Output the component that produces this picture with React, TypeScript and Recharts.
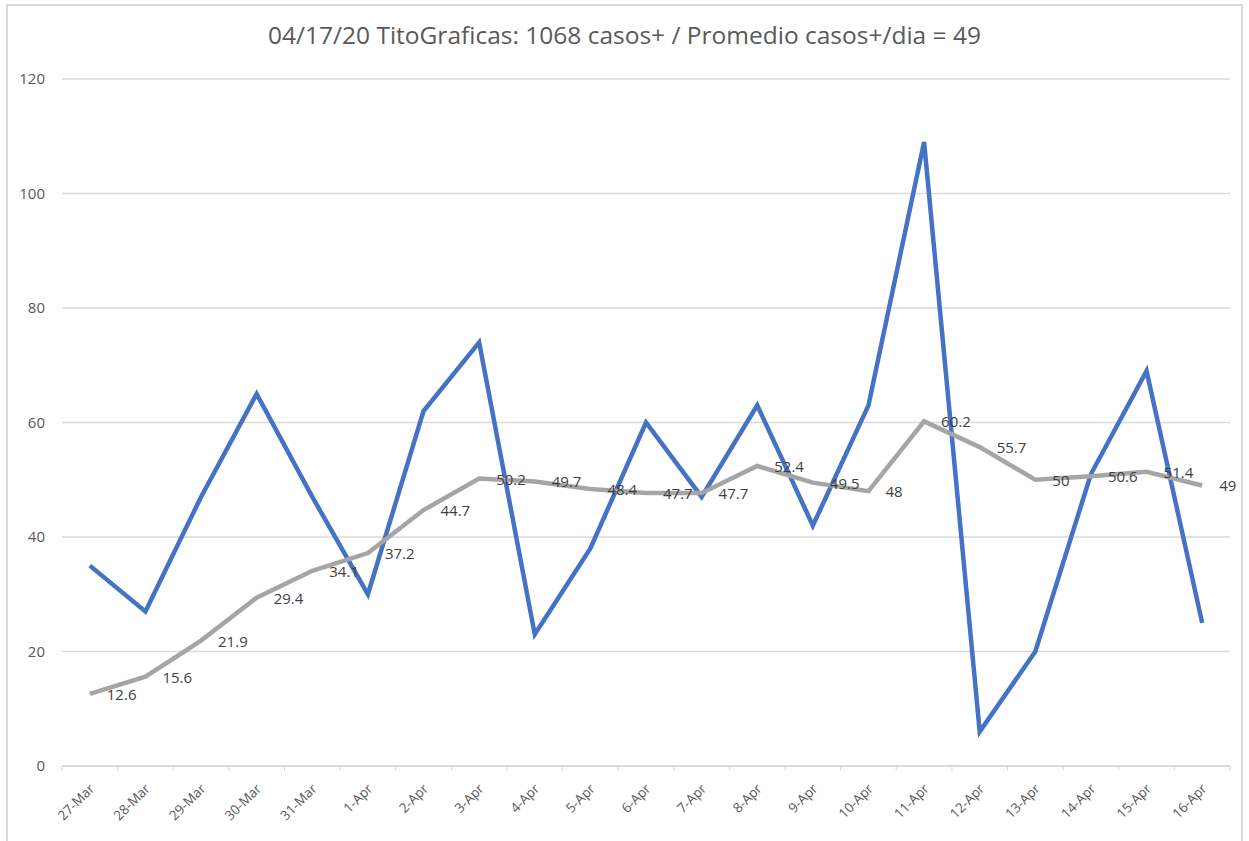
import React from "react";
import { LineChart, Line, XAxis, YAxis, CartesianGrid, LabelList } from "recharts";

const days = [
  "27-Mar", "28-Mar", "29-Mar", "30-Mar", "31-Mar", "1-Apr", "2-Apr", "3-Apr",
  "4-Apr", "5-Apr", "6-Apr", "7-Apr", "8-Apr", "9-Apr", "10-Apr", "11-Apr",
  "12-Apr", "13-Apr", "14-Apr", "15-Apr", "16-Apr",
];
const casos = [35, 27, 47, 65, 47, 30, 62, 74, 23, 38, 60, 47, 63, 42, 63, 109, 6, 20, 51, 69, 25];
const promedio = [
  12.6, 15.6, 21.9, 29.4, 34.1, 37.2, 44.7, 50.2, 49.7, 48.4, 47.7, 47.7, 52.4,
  49.5, 48, 60.2, 55.7, 50, 50.6, 51.4, 49,
];
const yTicks = [0, 20, 40, 60, 80, 100, 120];

const data = days.map((d, i) => ({ day: d, casos: casos[i], promedio: promedio[i] }));

const W = 1249;
const H = 841;
const LEFT = 62;
const RIGHT = 1230;
const BAND = (RIGHT - LEFT) / days.length;
const FONT = "Open Sans, sans-serif";

function DayTick(props: any) {
  const { x, y, payload, index } = props;
  const half = BAND / 2;
  const ax = x + 2;
  const ay = y + 20;
  return (
    <g>
      <line x1={x - half} x2={x - half} y1={y} y2={y + 5} stroke="#d9d9d9" />
      {index === days.length - 1 && (
        <line x1={x + half} x2={x + half} y1={y} y2={y + 5} stroke="#d9d9d9" />
      )}
      <text
        x={ax}
        y={ay}
        textAnchor="end"
        dominantBaseline="central"
        transform={`rotate(-45 ${ax} ${ay})`}
        fontSize={13.5}
        fill="#595959"
        fontFamily={FONT}
      >
        {payload.value}
      </text>
    </g>
  );
}

function AvgLabel(props: any) {
  const { x, y, value } = props;
  return (
    <text
      x={x + 17}
      y={y}
      dominantBaseline="central"
      fontSize={15}
      fill="#404040"
      fontFamily={FONT}
    >
      {value}
    </text>
  );
}

export default function App() {
  return (
    <div style={{ position: "absolute", left: 0, top: 0, width: W, height: H, background: "#fff" }}>
      <div
        style={{
          position: "absolute",
          left: 6,
          top: 4,
          width: W - 12,
          height: H,
          border: "2px solid #d9d9d9",
          borderBottom: "none",
          boxSizing: "border-box",
        }}
      />
      <div
        style={{
          position: "absolute",
          left: 0,
          width: W,
          top: 21,
          textAlign: "center",
          fontFamily: FONT,
          fontSize: 24.5,
          color: "#595959",
          lineHeight: "28px",
        }}
      >
        04/17/20 TitoGraficas: 1068 casos+ / Promedio casos+/dia = 49
      </div>
      <div style={{ position: "absolute", left: 0, top: 0 }}>
        <LineChart
          width={W}
          height={H}
          data={data}
          margin={{ top: 79, right: W - RIGHT, bottom: 0, left: 0 }}
        >
          <CartesianGrid vertical={false} stroke="#d9d9d9" strokeWidth={1.5} />
          <XAxis
            dataKey="day"
            height={75}
            padding={{ left: BAND / 2, right: BAND / 2 }}
            tickSize={0}
            tickMargin={0}
            tickLine={false}
            axisLine={{ stroke: "#d9d9d9", strokeWidth: 1.5 }}
            interval={0}
            tick={<DayTick />}
          />
          <YAxis
            width={LEFT}
            domain={[0, 120]}
            ticks={yTicks}
            axisLine={false}
            tickLine={false}
            tickMargin={11}
            tick={{ fontSize: 15, fill: "#595959", fontFamily: FONT }}
          />
          <Line
            dataKey="casos"
            stroke="#4472C4"
            strokeWidth={4.5}
            dot={false}
            isAnimationActive={false}
          />
          <Line
            dataKey="promedio"
            stroke="#A5A5A5"
            strokeWidth={4.5}
            dot={false}
            isAnimationActive={false}
          >
            <LabelList dataKey="promedio" content={<AvgLabel />} />
          </Line>
        </LineChart>
      </div>
    </div>
  );
}
